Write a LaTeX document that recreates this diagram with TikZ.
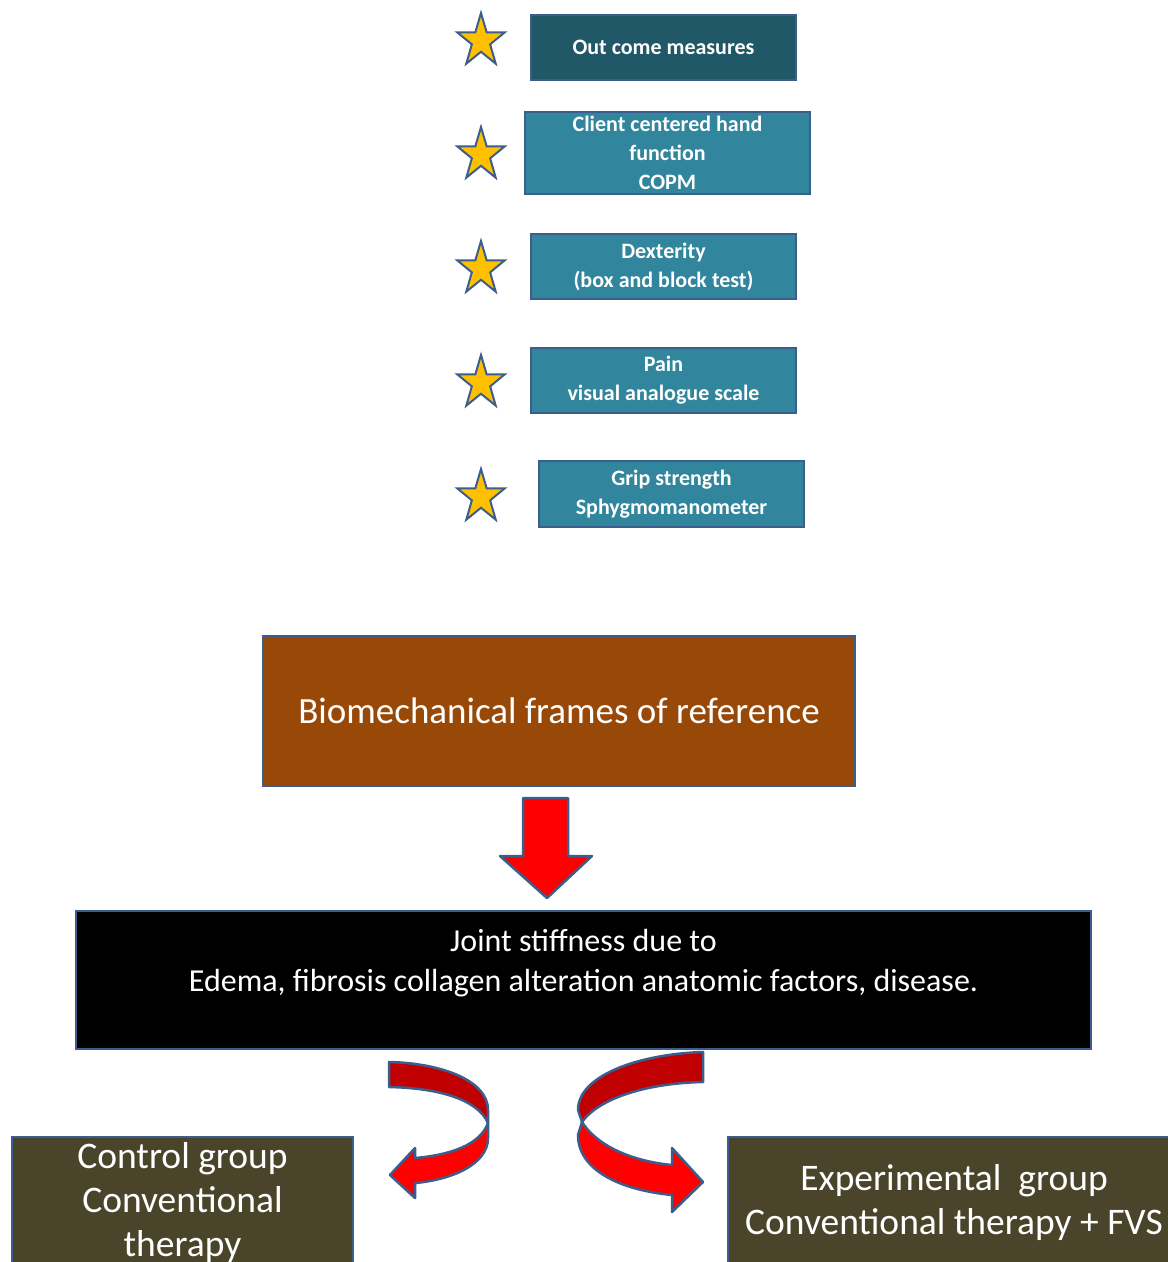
\documentclass[tikz,border=0pt]{standalone}
\usepackage{fontspec}
\setmainfont{Carlito}
\usetikzlibrary{shapes.geometric}

\definecolor{edgeblue}{HTML}{3B5E8C}
\definecolor{tealdark}{HTML}{215868}
\definecolor{teal}{HTML}{31859C}
\definecolor{brownbox}{HTML}{984807}
\definecolor{olivebox}{HTML}{4A452A}
\definecolor{starfill}{HTML}{FFC000}
\definecolor{ribbondark}{HTML}{C00000}

\tikzset{
  measure/.style={draw=edgeblue, line width=2.2pt, fill=teal, text=white,
    font=\bfseries\fontsize{22}{29}\selectfont, align=center, inner sep=0pt},
  starmark/.style={star, star points=5, star point ratio=2.6, draw=edgeblue,
    line width=2pt, fill=starfill, minimum size=50pt, inner sep=0pt, yscale=1.12},
  bigbox/.style={draw=edgeblue, line width=2.5pt, text=white, align=center, inner sep=0pt},
  blockarrow/.style={draw=edgeblue, line width=2.5pt, line join=round},
}

\begin{document}
\begin{tikzpicture}[x=1pt,y=-1pt]
            \useasboundingbox (0,0) rectangle (1168,1262);
            \clip (0,0) rectangle (1168,1262);
            % outcome measures
            \node[measure, fill=tealdark, minimum width=265pt, minimum height=65pt] (outcome) at (663.5,47.5) {Out come measures};
            \node[measure, minimum width=285pt, minimum height=82pt] (copm) at (667.5,153) {Client centered hand\\function\\COPM};
            \node[measure, minimum width=265pt, minimum height=65pt] (dexterity) at (663.5,266.5) {Dexterity\\(box and block test)};
            \node[measure, minimum width=265pt, minimum height=65pt] (pain) at (663.5,380.5) {Pain\\visual analogue scale};
            \node[measure, minimum width=265pt, minimum height=66pt] (grip) at (671.5,494) {Grip strength\\Sphygmomanometer};
            \node[starmark] (star1) at (481,41) {};
            \node[starmark] (star2) at (481,155) {};
            \node[starmark] (star3) at (481,269) {};
            \node[starmark] (star4) at (481,383) {};
            \node[starmark] (star5) at (481,497) {};
            % frame of reference
            \node[bigbox, fill=brownbox, minimum width=592pt, minimum height=150pt,
                  font=\fontsize{37}{44}\selectfont] (bio) at (559,711) {Biomechanical frames of reference};
            \node[bigbox, fill=black, minimum width=1015pt, minimum height=138pt,
                  font=\fontsize{32}{40}\selectfont] (joint) at (583.5,980) {Joint stiffness due to\\Edema, fibrosis collagen alteration anatomic factors, disease.\\~};
            \node[bigbox, fill=olivebox, minimum width=341pt, minimum height=130pt,
                  font=\fontsize{37.5}{44}\selectfont] (control) at (182.5,1202) {Control group\\Conventional\\therapy};
            \node[bigbox, fill=olivebox, minimum width=452pt, minimum height=130pt,
                  font=\fontsize{37.5}{44}\selectfont] (experimental) at (954,1202) {Experimental~ group\\Conventional therapy + FVS};
            % arrows
            \draw[blockarrow, fill=red] (523,798) -- (568,798) -- (568,856) -- (592,856)
                -- (547,898) -- (500,856) -- (523,856) -- cycle;
            \draw[blockarrow, fill=ribbondark] (389,1062) .. controls (440,1063) and (488,1080) .. (488,1110)
                -- (488,1123) .. controls (478,1100) and (440,1088) .. (389,1087) -- cycle;
            \draw[blockarrow, fill=red] (488,1123) -- (488,1138) .. controls (488,1165) and (450,1180) .. (415,1183)
                -- (415,1198) -- (390,1175) -- (415,1148) -- (415,1158)
                .. controls (450,1155) and (480,1145) .. (488,1123) -- cycle;
            \draw[blockarrow, fill=ribbondark] (703,1052) .. controls (640,1054) and (578,1075) .. (578,1110)
                -- (582,1122) .. controls (600,1097) and (650,1083) .. (703,1082) -- cycle;
            \draw[blockarrow, fill=red] (582,1122) .. controls (600,1150) and (640,1162) .. (672,1165)
                -- (672,1148) -- (703,1182) -- (672,1212) -- (672,1195)
                .. controls (620,1190) and (578,1170) .. (578,1135) -- cycle;
        \end{tikzpicture}
\end{document}
